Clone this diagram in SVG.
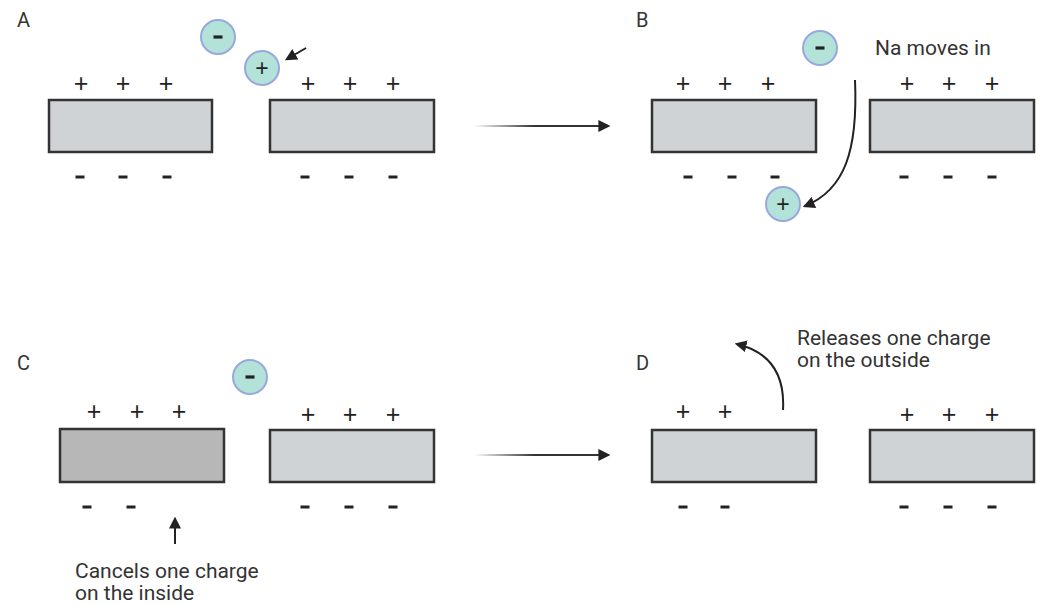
<svg xmlns="http://www.w3.org/2000/svg" width="1039" height="605" viewBox="0 0 1039 605">
<defs>
<style>
.lbl{font-family:Roboto,"Liberation Sans",sans-serif;font-size:20px;fill:#333}
.txt{font-family:Roboto,"Liberation Sans",sans-serif;font-size:21px;fill:#333}
.pl{font-family:"Liberation Sans",Roboto,sans-serif;font-size:25px;fill:#222;text-anchor:middle}
.mn{stroke:#222;stroke-width:3.2}
.mem{fill:#d0d3d6;stroke:#333;stroke-width:2.5}
.memd{fill:#b7b7b7;stroke:#333;stroke-width:2.5}
.ion{fill:#b3e2d9;stroke:#98a8df;stroke-width:2}
.con{fill:none;stroke:#222;stroke-width:2}
</style>
<linearGradient id="fade" gradientUnits="userSpaceOnUse" x1="474" y1="0" x2="608" y2="0">
<stop offset="0" stop-color="#333" stop-opacity="0"/>
<stop offset="0.45" stop-color="#333" stop-opacity="1"/>
</linearGradient>
<marker id="ah" viewBox="0 0 10 10" refX="8" refY="5" markerWidth="6" markerHeight="6" orient="auto" markerUnits="strokeWidth">
<path d="M0,0 L10,5 L0,10 z" fill="#222"/>
</marker>
</defs>
<rect width="1039" height="605" fill="#fff"/>

<!-- Panel A -->
<g id="panelA">
<text class="lbl" x="17" y="27">A</text>
<rect class="mem" x="49" y="100" width="163" height="52"/>
<rect class="mem" x="270" y="100" width="164" height="52"/>
<text class="pl" x="81" y="92">+</text><text class="pl" x="123" y="92">+</text><text class="pl" x="166" y="92">+</text>
<text class="pl" x="308" y="92">+</text><text class="pl" x="350" y="92">+</text><text class="pl" x="393" y="92">+</text>
<path class="mn" d="M75.5 177h9M118.5 177h9M162.5 177h9M300.5 177h9M344.5 177h9M388.5 177h9"/>
</g>
<g id="ionA1"><circle class="ion" cx="218" cy="37" r="17"/><path class="mn" d="M213.5 37h9"/></g>
<g id="ionA2"><circle class="ion" cx="262" cy="68" r="17"/><text class="pl" x="262" y="76" style="font-size:23px">+</text></g>

<!-- Panel B -->
<g id="panelB">
<text class="lbl" x="636" y="27">B</text>
<rect class="mem" x="652" y="100" width="164" height="52"/>
<rect class="mem" x="870" y="100" width="164" height="52"/>
<text class="pl" x="683" y="92">+</text><text class="pl" x="725" y="92">+</text><text class="pl" x="768" y="92">+</text>
<text class="pl" x="907" y="92">+</text><text class="pl" x="949" y="92">+</text><text class="pl" x="992" y="92">+</text>
<path class="mn" d="M683.5 177h9M727.5 177h9M770.5 177h9M899.5 177h9M943.5 177h9M987.5 177h9"/>
<text class="txt" x="875" y="55">Na moves in</text>
</g>
<g id="ionB1"><circle class="ion" cx="820" cy="48" r="17"/><path class="mn" d="M815.5 48h9"/></g>
<g id="ionB2"><circle class="ion" cx="783" cy="204" r="17"/><text class="pl" x="783" y="212" style="font-size:23px">+</text></g>

<!-- Panel C -->
<g id="panelC">
<text class="lbl" x="17" y="370">C</text>
<rect class="memd" x="60" y="429" width="164" height="53"/>
<rect class="mem" x="270" y="430" width="164" height="52"/>
<text class="pl" x="94" y="420">+</text><text class="pl" x="137" y="420">+</text><text class="pl" x="179" y="420">+</text>
<text class="pl" x="308" y="423">+</text><text class="pl" x="350" y="423">+</text><text class="pl" x="393" y="423">+</text>
<path class="mn" d="M82.5 507h9M126.5 507h9M300.5 507h9M344.5 507h9M388.5 507h9"/>
<text class="txt" x="75" y="578">Cancels one charge</text>
<text class="txt" x="75" y="600">on the inside</text>
</g>
<g id="ionC"><circle class="ion" cx="250" cy="377" r="17"/><path class="mn" d="M245.5 377h9"/></g>

<!-- Panel D -->
<g id="panelD">
<text class="lbl" x="636" y="370">D</text>
<rect class="mem" x="652" y="430" width="164" height="52"/>
<rect class="mem" x="870" y="430" width="164" height="52"/>
<text class="pl" x="683" y="420">+</text><text class="pl" x="725" y="420">+</text>
<text class="pl" x="907" y="423">+</text><text class="pl" x="949" y="423">+</text><text class="pl" x="992" y="423">+</text>
<path class="mn" d="M678.5 507h9M720.5 507h9M899.5 507h9M943.5 507h9M987.5 507h9"/>
<text class="txt" x="797" y="345">Releases one charge</text>
<text class="txt" x="797" y="367">on the outside</text>
</g>

<!-- Connectors -->
<g id="connectors">
<line x1="474" y1="126" x2="608" y2="126" stroke="url(#fade)" stroke-width="2" marker-end="url(#ah)"/>
<line x1="474" y1="455" x2="608" y2="455" stroke="url(#fade)" stroke-width="2" marker-end="url(#ah)"/>
<path class="con" d="M306 48 L287 59" marker-end="url(#ah)"/>
<path class="con" d="M855 80 C858 150 845 190 805 206" marker-end="url(#ah)"/>
<path class="con" d="M783 410 C785 375 770 352 737 344" marker-end="url(#ah)"/>
<path class="con" d="M175 544 L175 519" marker-end="url(#ah)"/>
</g>
</svg>
